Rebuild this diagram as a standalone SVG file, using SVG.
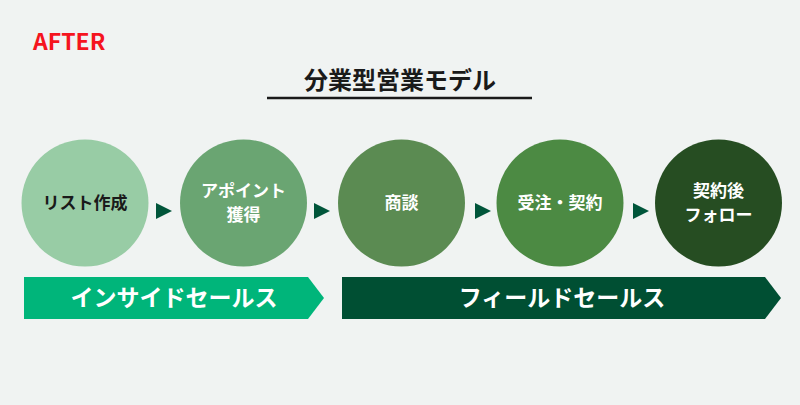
<svg xmlns="http://www.w3.org/2000/svg" width="800" height="405" viewBox="0 0 800 405">
<style>
text{font-family:"Noto Sans CJK JP","Noto Sans",sans-serif;font-weight:bold;text-anchor:middle}
.c{font-size:17px;fill:#ffffff}
.b{font-size:23px;fill:#ffffff}
.arr{fill:#00553A}
</style>
<rect width="800" height="405" fill="#F0F3F2"/>
<text x="33" y="50" style="text-anchor:start;font-size:23px;fill:#F5141E">AFTER</text>
<g id="title">
<text x="400" y="89" style="font-size:24px;fill:#1a1a1a">分業型営業モデル</text>
<line x1="267" y1="98" x2="532" y2="98" stroke="#1a1a1a" stroke-width="2.5"/>
</g>
<g id="connectors">
<polygon class="arr" points="156,203 172,211 156,219"/>
<polygon class="arr" points="314,203 330,211 314,219"/>
<polygon class="arr" points="475,203 491,211 475,219"/>
<polygon class="arr" points="633,203 649,211 633,219"/>
</g>
<g id="n1"><circle cx="85" cy="203" r="63.5" fill="#98CCA5"/><text class="c" x="85" y="209" style="fill:#1a1a1a">リスト作成</text></g>
<g id="n2"><circle cx="243.5" cy="203" r="63.5" fill="#6AA572"/><text class="c" x="243.5" y="197">アポイント</text><text class="c" x="243.5" y="221">獲得</text></g>
<g id="n3"><circle cx="401.5" cy="203" r="63.5" fill="#5B8B52"/><text class="c" x="401.5" y="209">商談</text></g>
<g id="n4"><circle cx="560" cy="203" r="63.5" fill="#4C8A43"/><text class="c" x="560" y="209">受注・契約</text></g>
<g id="n5"><circle cx="718.5" cy="203" r="63.5" fill="#264D22"/><text class="c" x="718.5" y="197">契約後</text><text class="c" x="718.5" y="221">フォロー</text></g>
<g id="inside"><polygon points="24,277 308,277 324,298 308,319 24,319" fill="#00B57A"/><text class="b" x="174" y="306">インサイドセールス</text></g>
<g id="field"><polygon points="342,277 765,277 781,298 765,319 342,319" fill="#004F33"/><text class="b" x="562" y="306">フィールドセールス</text></g>
</svg>
